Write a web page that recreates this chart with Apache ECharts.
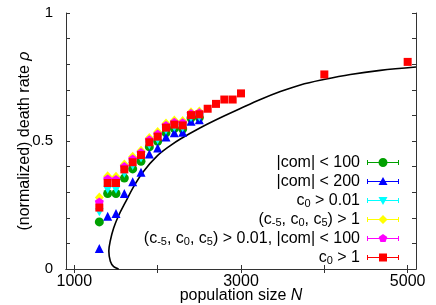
<!DOCTYPE html>
<html>
<head>
<meta charset="utf-8">
<script src="https://cdn.jsdelivr.net/npm/echarts@6/dist/echarts.min.js"></script>
<style>html,body{margin:0;padding:0;background:#fff}#c{width:436px;height:305px}</style>
</head>
<body>
<div id="c"></div>
<script>
// ---- data ----
const popN = [1300,1400,1500,1600,1700,1800,1900,2000,2100,2200,2300,2400,2500];
const comLt100 = [0.184,0.295,0.295,0.355,0.391,0.421,0.477,0.499,0.532,0.549,0.547,0.590,0.592];
const comLt200 = [0.080,0.206,0.217,0.295,0.341,0.378,0.449,0.473,0.516,0.532,0.534,0.577,0.583];
const c0Gt001 = [0.222,0.310,0.310,0.372,0.402,0.432,0.482,0.503,0.540,0.552,0.550,0.590,0.592];
const cTripleGt1 = [0.279,0.362,0.360,0.408,0.438,0.462,0.512,0.535,0.568,0.580,0.578,0.612,0.615];
const cTripleGt001Com = [0.262,0.352,0.350,0.400,0.430,0.455,0.505,0.527,0.561,0.573,0.571,0.607,0.610];
const redN = [1300,1400,1500,1600,1700,1800,1900,2000,2100,2200,2300,2400,2500,2600,2700,2800,2900,3000,4000,5000];
const c0Gt1 = [0.240,0.336,0.336,0.389,0.417,0.445,0.495,0.517,0.552,0.564,0.561,0.601,0.604,0.626,0.645,0.662,0.662,0.686,0.760,0.809];
// theory curve (read as points)
const curveN =   [1532,1472,1432,1414,1432,1472,1532,1612,1712,1832,1992,2152,2272,2512,2752,2992,3232,3472,3712,3992,4312,4672,5100];
const curveRho = [0.000,0.009,0.030,0.070,0.111,0.160,0.209,0.260,0.322,0.382,0.441,0.482,0.508,0.552,0.591,0.627,0.662,0.693,0.719,0.740,0.760,0.776,0.789];
const xTickValues = [1000,2000,3000,4000,5000];
const xTickLabels = [1000,3000,5000];
const yTickLabels = [0,0.5,1];
const seriesNames = ['|com| < 100','|com| < 200','c0 > 0.01','(c-5, c0, c5) > 1','(c-5, c0, c5) > 0.01, |com| < 100','c0 > 1'];
const richNames = ['|com| < 100','|com| < 200','c{s|0} > 0.01','(c{s|-5}, c{s|0}, c{s|5}) > 1','(c{s|-5}, c{s|0}, c{s|5}) > 0.01, |com| < 100','c{s|0} > 1'];

const FONT = 'Liberation Sans';
const pair = (xs, ys) => xs.map((x, i) => [x, ys[i]]);

// marker shapes (within a 32x10 legend box, centered at 16,5)
const mk = {
  circle: 'M11.5,5 A4.5,4.5 0 1,1 20.5,5 A4.5,4.5 0 1,1 11.5,5 Z',
  tri: 'M16,0.5 L20.5,8.5 L11.5,8.5 Z',
  dtri: 'M11.5,1.5 L20.5,1.5 L16,9.5 Z',
  diamond: 'M16,0.5 L20.5,5 L16,9.5 L11.5,5 Z',
  penta: 'M16,0.5 L20.3,3.6 L18.6,8.6 L13.4,8.6 L11.7,3.6 Z',
  square: 'M12,1 L20,1 L20,9 L12,9 Z'
};
const legendIcon = m => 'path://M0,0 L0,0 Z M32,10 L32,10 Z M0,4.5 L32,4.5 L32,5.5 L0,5.5 Z M0,2.5 L1,2.5 L1,7.5 L0,7.5 Z M31,2.5 L32,2.5 L32,7.5 L31,7.5 Z ' + mk[m];

const colors = ['#00a000','#0000ff','#00ffff','#ffff00','#ff00ff','#ff0000'];
const shapes = ['circle','tri','dtri','diamond','penta','square'];
const symbols = ['circle','triangle','path://M0,0 L10,0 L5,8.66 Z','diamond','path://M16,0 L20.28,3.11 L18.65,8.14 L13.35,8.14 L11.72,3.11 Z','rect'];
const sizes = [9,9,[9,8],[9,10],9,8];
const datasets = [pair(popN, comLt100), pair(popN, comLt200), pair(popN, c0Gt001), pair(popN, cTripleGt1), pair(popN, cTripleGt001Com), pair(redN, c0Gt1)];

const series = [{
  type: 'line', data: pair(curveN, curveRho), showSymbol: false, smooth: 0.35,
  lineStyle: {color: '#000', width: 1.6}, silent: true, z: 1
}];
seriesNames.forEach((n, i) => series.push({
  name: n, type: 'scatter', data: datasets[i], symbol: symbols[i], symbolSize: sizes[i],
  itemStyle: {color: colors[i], opacity: 1}, z: 2 + i
}));

const axisLineStyle = {color: '#333', width: 1};
const chart = echarts.init(document.getElementById('c'));
chart.setOption({
  animation: false,
  textStyle: {fontFamily: FONT},
  grid: {left: 66, right: 20, top: 13, bottom: 36, outerBoundsMode: 'none', containLabel: false},
  legend: {
    orient: 'vertical', right: 32, top: 148, align: 'right', itemGap: 0,
    itemWidth: 32, itemHeight: 10, selectedMode: false,
    data: seriesNames.map((n, i) => ({name: n, icon: legendIcon(shapes[i])})),
    formatter: n => richNames[seriesNames.indexOf(n)],
    textStyle: {fontFamily: FONT, fontSize: 16, color: '#000', lineHeight: 19, padding: [0, 2, 0, 0],
      rich: {s: {fontFamily: FONT, fontSize: 11, color: '#000', padding: [7, 0, 0, 0]}}}
  },
  xAxis: [{
    type: 'value', min: 900, max: 5100, position: 'bottom',
    name: 'population size {i|N}', nameLocation: 'middle', nameGap: 19, nameMoveOverlap: false,
    nameTextStyle: {fontFamily: FONT, fontSize: 16, color: '#000',
      rich: {i: {fontFamily: FONT, fontSize: 16, fontStyle: 'italic', color: '#000'}}},
    axisLine: {show: true, lineStyle: axisLineStyle},
    axisTick: {show: true, inside: true, length: 4, customValues: xTickValues, lineStyle: axisLineStyle},
    axisLabel: {customValues: xTickLabels, formatter: v => String(v), fontFamily: FONT, fontSize: 16, color: '#000', margin: 5},
    splitLine: {show: false}
  }, {
    type: 'value', min: 900, max: 5100, position: 'top',
    axisLine: {show: true, lineStyle: axisLineStyle},
    axisTick: {show: true, inside: true, length: 4, customValues: xTickValues, lineStyle: axisLineStyle},
    axisLabel: {show: false}, splitLine: {show: false}
  }],
  yAxis: [{
    type: 'value', min: 0, max: 1, interval: 0.1, position: 'left',
    name: '(normalized) death rate {i|ρ}', nameLocation: 'middle', nameGap: 33, nameRotate: 90, nameMoveOverlap: false,
    nameTextStyle: {fontFamily: FONT, fontSize: 16, color: '#000',
      rich: {i: {fontFamily: FONT, fontSize: 16, fontStyle: 'italic', color: '#000'}}},
    axisLine: {show: true, lineStyle: axisLineStyle},
    axisTick: {show: true, inside: true, length: 4, lineStyle: axisLineStyle},
    axisLabel: {customValues: yTickLabels, formatter: v => String(v), fontFamily: FONT, fontSize: 15, color: '#000', margin: 13},
    splitLine: {show: false}
  }, {
    type: 'value', min: 0, max: 1, interval: 0.1, position: 'right',
    axisLine: {show: true, lineStyle: axisLineStyle},
    axisTick: {show: true, inside: true, length: 4, lineStyle: axisLineStyle},
    axisLabel: {show: false}, splitLine: {show: false}
  }],
  series: series
});
</script>
</body>
</html>
